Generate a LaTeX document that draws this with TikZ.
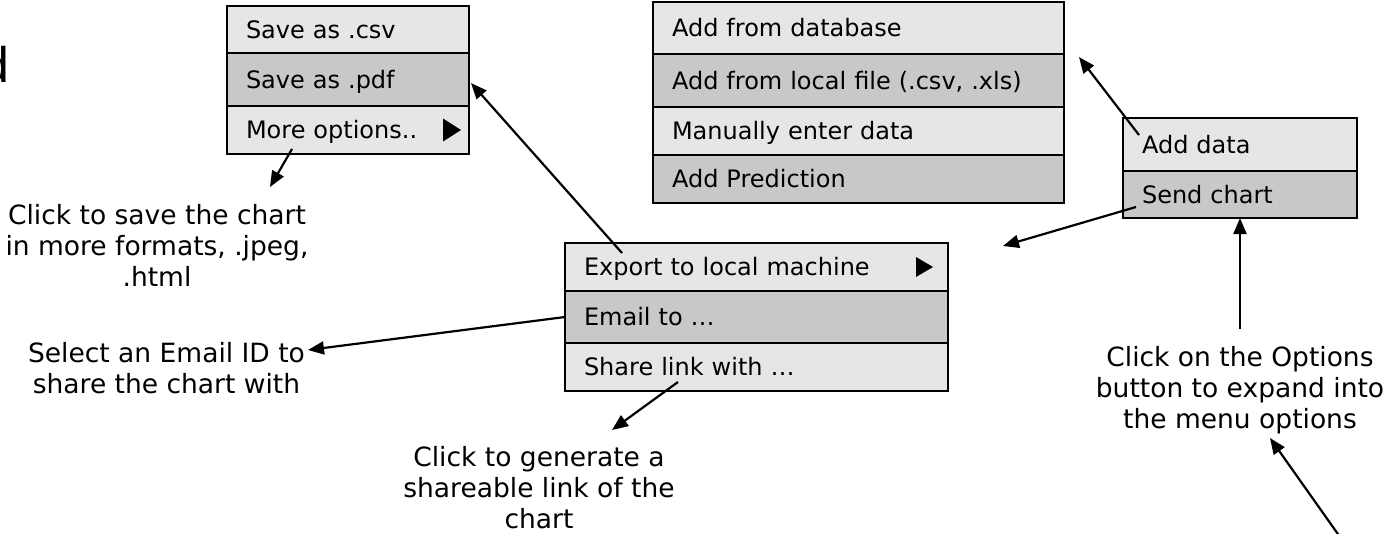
\documentclass[tikz,border=0pt]{standalone}
\usepackage{fontspec}
\setmainfont{DejaVu Sans}
\newfontfamily\cutfont{Liberation Sans}
\usetikzlibrary{arrows.meta}
\definecolor{rowlight}{RGB}{230,230,230}
\definecolor{rowdark}{RGB}{200,200,200}

\begin{document}
\begin{tikzpicture}[x=1pt,y=-1pt,
  menurow/.style={draw=black, line width=2.5pt, rectangle, anchor=north west,
    inner xsep=19pt, inner ysep=0pt, outer sep=0pt, align=left,
    font=\fontsize{24}{28}\selectfont, text height=17.5pt, text depth=0pt},
  light/.style={fill=rowlight},
  dark/.style={fill=rowdark},
  note/.style={align=center, inner sep=0pt, outer sep=0pt, anchor=north,
    font=\fontsize{26.5}{31}\selectfont},
  pointer/.style={line width=2.2pt, -{Triangle[length=16pt,width=13pt]}},
  submenu/.style={fill=black}]

\useasboundingbox (0,0) rectangle (1390,533);
\clip (0,0) rectangle (1390,533);

% word cut off at the left edge
\node[anchor=base east, inner sep=0pt, outer sep=0pt,
  font=\cutfont\fontsize{50}{50}\selectfont] (cutword) at (9.5,82) {d};

% export sub-menu
\node[menurow, light, text width=204pt, minimum height=47pt] (csv)  at (227,6)   {Save as .csv};
\node[menurow, dark,  text width=204pt, minimum height=53pt] (pdf)  at (227,53)  {Save as .pdf};
\node[menurow, light, text width=204pt, minimum height=48pt] (more) at (227,106) {More options..};
\fill[submenu] ([xshift=-8pt]more.east) -- ++(-18,-11.5) -- ++(0,23) -- cycle;

% add-data sub-menu
\node[menurow, light, text width=373pt, minimum height=52pt] (db)         at (653,2)   {Add from database};
\node[menurow, dark,  text width=373pt, minimum height=53pt] (localfile)  at (653,54)  {Add from local file (.csv, .xls)};
\node[menurow, light, text width=373pt, minimum height=48pt] (manual)     at (653,107) {Manually enter data};
\node[menurow, dark,  text width=373pt, minimum height=48pt] (prediction) at (653,155) {Add Prediction};

% send-chart sub-menu
\node[menurow, light, text width=345pt, minimum height=48pt] (export) at (565,243) {Export to local machine};
\node[menurow, dark,  text width=345pt, minimum height=52pt] (email)  at (565,291) {Email to …};
\node[menurow, light, text width=345pt, minimum height=48pt] (share)  at (565,343) {Share link with …};
\fill[submenu] ([xshift=-15pt]export.east) -- ++(-17,-10) -- ++(0,20) -- cycle;

% options menu
\node[menurow, light, text width=196pt, minimum height=53pt] (adddata)   at (1123,118) {Add data};
\node[menurow, dark,  text width=196pt, minimum height=47pt] (sendchart) at (1123,171) {Send chart};

% notes
\node[note] (savenote)   at (157,204)  {Click to save the chart\\in more formats, .jpeg,\\.html};
\node[note] (emailnote)  at (166.5,342) {Select an Email ID to\\share the chart with};
\node[note] (linknote)   at (539,446)  {Click to generate a\\shareable link of the\\chart};
\node[note] (optionnote) at (1240,346) {Click on the Options\\button to expand into\\the menu options};

% connector ends
\coordinate (moreTail)   at (292,149);
\coordinate (moreTip)    at (270,187);
\coordinate (exportTail) at (622,253);
\coordinate (pdfTip)     at (471,83);
\coordinate (emailTip)   at (308,350);
\coordinate (shareTail)  at (678,382);
\coordinate (linkTip)    at (612,430);
\coordinate (addTail)    at (1139,135);
\coordinate (dbTip)      at (1079,57);
\coordinate (sendTail)   at (1136,207);
\coordinate (sendTip)    at (1003,246);
\coordinate (optTail)    at (1240,329);
\coordinate (cornerTail) at (1340,537);
\coordinate (optTip)     at (1270,438);

% connectors
\draw[pointer] (moreTail)   -- (moreTip);
\draw[pointer] (exportTail) -- (pdfTip);
\draw[pointer] (email.west) -- (emailTip);
\draw[pointer] (shareTail)  -- (linkTip);
\draw[pointer] (addTail)    -- (dbTip);
\draw[pointer] (sendTail)   -- (sendTip);
\draw[pointer] (optTail)    -- (sendchart.south);
\draw[pointer] (cornerTail) -- (optTip);
\end{tikzpicture}
\end{document}
